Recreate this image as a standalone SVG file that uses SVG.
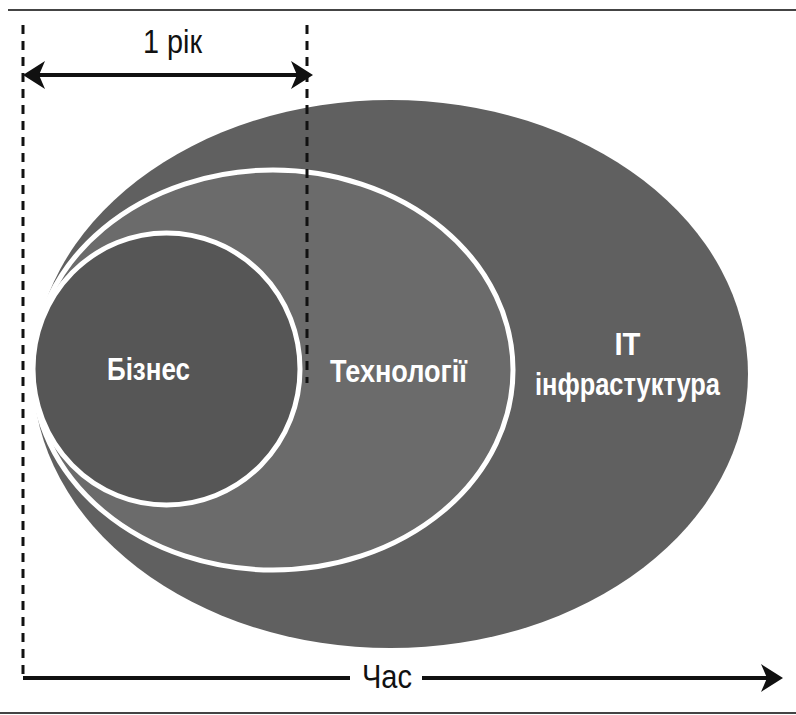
<svg xmlns="http://www.w3.org/2000/svg" width="796" height="715" viewBox="0 0 796 715">
  <style>
    .lbl { font-family: "Liberation Sans", Arial, sans-serif; font-weight: bold; font-size: 31px; fill: #ffffff; text-anchor: middle; }
    .axis { font-family: "Liberation Sans", Arial, sans-serif; font-size: 34px; fill: #111111; text-anchor: middle; }
    .rule { stroke: #444444; stroke-width: 2; }
    .dash { stroke: #111111; stroke-width: 3; stroke-dasharray: 9 7; fill: none; }
    .arrow { stroke: #111111; stroke-width: 4; fill: none; }
    .ring { stroke: #ffffff; stroke-width: 5; }
  </style>
  <defs>
    <marker id="head" viewBox="0 0 22 28" refX="12" refY="14" markerWidth="22" markerHeight="28" markerUnits="userSpaceOnUse" orient="auto-start-reverse">
      <path d="M0,0 L22,14 L0,28 L6,14 Z" fill="#111111"/>
    </marker>
  </defs>
  <rect width="796" height="715" fill="#ffffff"/>

  <line class="rule" x1="8" y1="10" x2="796" y2="10"/>
  <line class="rule" x1="0" y1="713" x2="796" y2="713"/>

  <g id="it-infrastructure">
    <ellipse cx="390.5" cy="374" rx="357.5" ry="274" fill="#606060"/>
    <text class="lbl" x="627.5" y="355" textLength="26" lengthAdjust="spacingAndGlyphs">IT</text>
    <text class="lbl" x="627.5" y="395" textLength="185" lengthAdjust="spacingAndGlyphs">інфрастуктура</text>
  </g>

  <g id="technologies">
    <ellipse class="ring" cx="273" cy="370" rx="240" ry="200" fill="#6b6b6b"/>
    <text class="lbl" x="398.5" y="382" textLength="137" lengthAdjust="spacingAndGlyphs">Технології</text>
  </g>

  <g id="business">
    <ellipse class="ring" cx="166.5" cy="369" rx="133.5" ry="136" fill="#565656"/>
    <text class="lbl" x="148.5" y="380" textLength="83" lengthAdjust="spacingAndGlyphs">Бізнес</text>
  </g>

  <g id="connectors">
    <line class="dash" x1="23" y1="25" x2="23" y2="678"/>
    <line class="dash" x1="307" y1="25" x2="307" y2="383"/>
    <line class="arrow" x1="33" y1="75" x2="303" y2="75" marker-start="url(#head)" marker-end="url(#head)"/>
    <line class="arrow" x1="23" y1="678" x2="350" y2="678"/>
    <line class="arrow" x1="422" y1="678" x2="773" y2="678" marker-end="url(#head)"/>
    <text class="axis" x="172.5" y="53" textLength="59" lengthAdjust="spacingAndGlyphs">1 рік</text>
    <text class="axis" x="387" y="688" textLength="50" lengthAdjust="spacingAndGlyphs">Час</text>
  </g>
</svg>
